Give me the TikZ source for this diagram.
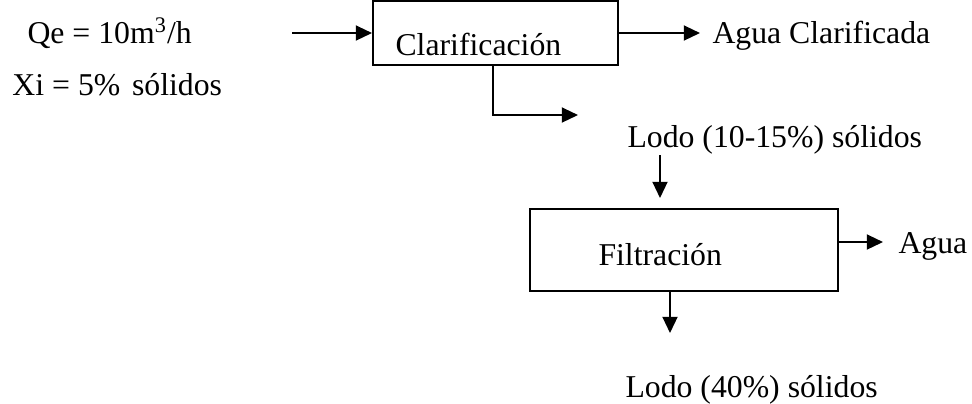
\documentclass[tikz,border=0pt]{standalone}
\usepackage{fontspec}
\setmainfont{Liberation Serif}
\usetikzlibrary{arrows.meta}
\tikzset{
	flow/.style={line width=0.8pt, -{Triangle[length=6.5pt,width=6pt]}},
	caja/.style={draw, line width=0.8pt, inner sep=0pt},
	txt/.style={anchor=base west, inner sep=0pt, font=\fontsize{12.7}{15}\selectfont}
}

\begin{document}
\begin{tikzpicture}[x=0.4pt, y=-0.4pt]
		%%%%% START %%%%%
		\useasboundingbox (0, 0) rectangle (972, 403);
		
		\node[txt] (qe) at (27, 43) {Qe = 10m\textsuperscript{3}/h};
		\node[txt] (xi) at (12, 95) {Xi = 5\%\hspace{0.12em} sólidos};
		
		\node[caja, minimum width=98pt, minimum height=25.6pt] (clar) at (495.5, 32.5) {};
		\node[txt] (clartxt) at (395, 55) {Clarificación};
		
		\coordinate (entrada) at (292, 33);
		\draw[flow] (entrada) -- (entrada -| clar.west);
		
		\coordinate (salida) at (700, 33);
		\node[txt] (agua1) at (712, 43) {Agua Clarificada};
		\draw[flow] (salida -| clar.east) -- (salida);
		
		\coordinate (lodoA) at (578, 115);
		\draw[flow] (clar.south -| 493, 0) |- (lodoA);
		\node[txt] (lodo1) at (627, 147) {Lodo (10-15\%) sólidos};
		
		\node[caja, minimum width=123.2pt, minimum height=32.8pt] (filt) at (684, 250) {};
		\node[txt] (filttxt) at (598, 265) {Filtración};
		
		\coordinate (bajada) at (660, 155);
		\draw[flow] (bajada) -- (bajada |- 0, 198);
		
		\coordinate (agua2) at (883, 242);
		\node[txt] (aguatxt) at (898, 253) {Agua};
		\draw[flow] (agua2 -| filt.east) -- (agua2);
		
		\coordinate (lodoB) at (670, 333);
		\draw[flow] (lodoB |- filt.south) -- (lodoB);
		\node[txt] (lodo2) at (625, 397) {Lodo (40\%) sólidos};
		%%%%% END %%%%%
	\end{tikzpicture}
\end{document}
